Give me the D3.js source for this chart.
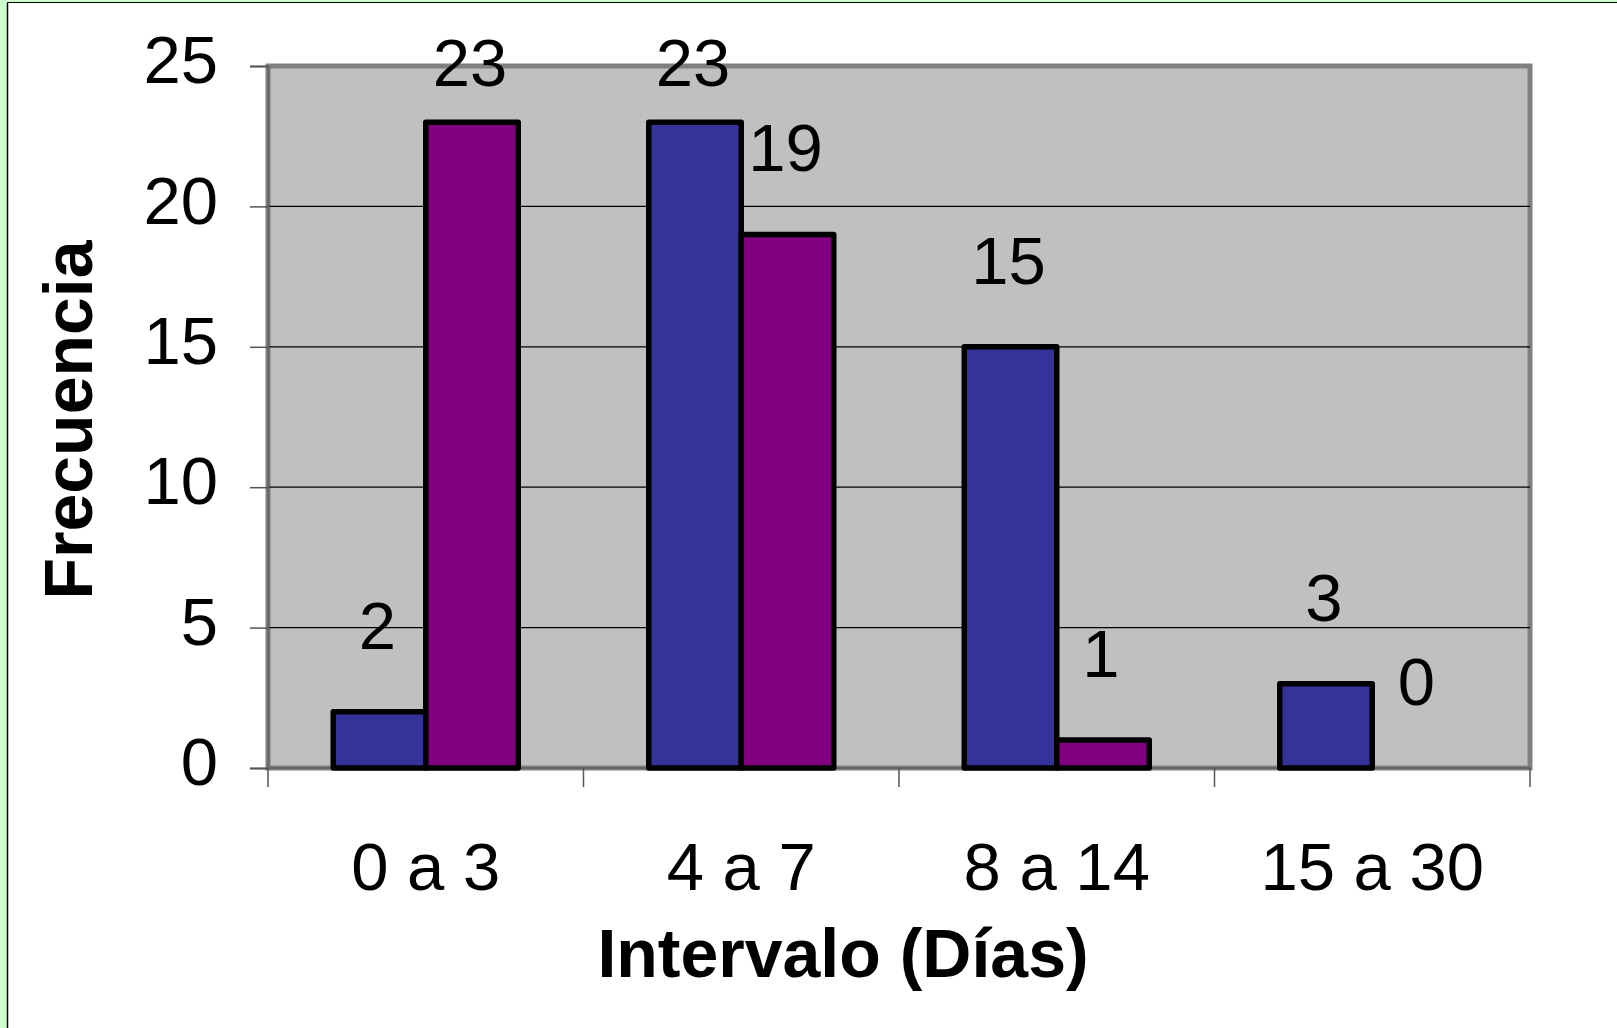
<!DOCTYPE html>
<html>
<head>
<meta charset="utf-8">
<style>
  html, body { margin: 0; padding: 0; background: #ccffcc; }
  svg { display: block; }
  text { font-family: "Liberation Sans", Arial, sans-serif; fill: #000; }
</style>
<script src="https://cdn.jsdelivr.net/npm/d3@7"></script>
</head>
<body>
<script>
// data
var categories = ['0 a 3', '4 a 7', '8 a 14', '15 a 30'];
var seriesNames = ['Serie 1', 'Serie 2'];
var serie1 = [2, 23, 15, 3];
var serie2 = [23, 19, 1, 0];
var yTicks = [0, 5, 10, 15, 20, 25];
var colors = ['#333399', '#800080'];

var W = 1617, H = 1028;
var plot = {left: 268, top: 66, right: 1530, bottom: 768};

var svg = d3.select('body').append('svg')
  .attr('width', W)
  .attr('height', H);

// chart area (white) with thin black edge, green page showing around it
svg.append('rect')
  .attr('x', 8).attr('y', 3)
  .attr('width', W).attr('height', H)
  .attr('fill', '#fff');
svg.append('line')
  .attr('x1', 7.5).attr('y1', 2.5).attr('x2', 7.5).attr('y2', H)
  .attr('stroke', '#000').attr('stroke-width', 1.5);
svg.append('line')
  .attr('x1', 7.5).attr('y1', 2.5).attr('x2', W).attr('y2', 2.5)
  .attr('stroke', '#000').attr('stroke-width', 1);

var x0 = d3.scaleBand()
  .domain(categories)
  .range([plot.left, plot.right])
  .paddingInner(0)
  .paddingOuter(0);

var groupW = 185;
var x1 = d3.scaleBand()
  .domain([0, 1])
  .range([0, groupW]);

var y = d3.scaleLinear()
  .domain([0, 25])
  .range([plot.bottom, plot.top]);

// plot background
svg.append('rect')
  .attr('x', plot.left).attr('y', plot.top)
  .attr('width', plot.right - plot.left)
  .attr('height', plot.bottom - plot.top)
  .attr('fill', '#c0c0c0')
  .attr('stroke', '#808080')
  .attr('stroke-width', 5);

// gridlines
svg.append('g')
  .selectAll('line')
  .data(yTicks.filter(function (d) { return d > 0 && d < 25; }))
  .enter()
  .append('line')
    .attr('x1', plot.left).attr('x2', plot.right)
    .attr('y1', function (d) { return y(d); })
    .attr('y2', function (d) { return y(d); })
    .attr('stroke', '#000')
    .attr('stroke-width', 1.2);

// y axis
var yAxis = svg.append('g')
  .attr('transform', 'translate(' + plot.left + ',0)')
  .call(d3.axisLeft(y).tickValues(yTicks).tickSize(18).tickPadding(32));
yAxis.select('.domain').attr('stroke', '#666').attr('stroke-width', 2);
yAxis.selectAll('.tick line').attr('stroke', '#555').attr('stroke-width', 1.5);
yAxis.selectAll('.tick text')
  .attr('font-size', 67)
  .attr('font-family', '"Liberation Sans", Arial, sans-serif')
  .attr('dy', '0.25em');

// x axis: ticks at band edges
var edges = categories.map(function (c) { return x0(c); }).concat([plot.right]);
svg.append('line')
  .attr('x1', plot.left).attr('x2', plot.right)
  .attr('y1', plot.bottom).attr('y2', plot.bottom)
  .attr('stroke', '#666').attr('stroke-width', 2);
svg.append('g')
  .selectAll('line')
  .data(edges)
  .enter()
  .append('line')
    .attr('x1', function (d) { return d; })
    .attr('x2', function (d) { return d; })
    .attr('y1', plot.bottom)
    .attr('y2', plot.bottom + 19)
    .attr('stroke', '#555')
    .attr('stroke-width', 1.5);

svg.append('g')
  .selectAll('text')
  .data(categories)
  .enter()
  .append('text')
    .attr('x', function (d) { return x0(d) + x0.bandwidth() / 2; })
    .attr('y', 890)
    .attr('text-anchor', 'middle')
    .attr('font-size', 67)
    .text(function (d) { return d; });

// bars
var rows = categories.map(function (c, i) {
  return {cat: c, values: [serie1[i], serie2[i]]};
});

var groups = svg.append('g')
  .selectAll('g')
  .data(rows)
  .enter()
  .append('g')
    .attr('transform', function (d) {
      return 'translate(' + (x0(d.cat) + (x0.bandwidth() - groupW) / 2) + ',0)';
    });

groups.selectAll('rect')
  .data(function (d) { return d.values; })
  .enter()
  .append('rect')
    .attr('x', function (d, i) { return x1(i); })
    .attr('width', x1.bandwidth())
    .attr('y', function (d) { return y(d); })
    .attr('height', function (d) { return y(0) - y(d); })
    .attr('fill', function (d, i) { return colors[i]; })
    .attr('stroke', '#000')
    .attr('stroke-width', 5.5)
    .attr('stroke-linejoin', 'round')
    .style('display', function (d) { return d > 0 ? null : 'none'; });

// value labels (pushed down when they would leave the chart)
groups.selectAll('text')
  .data(function (d) { return d.values; })
  .enter()
  .append('text')
    .attr('x', function (d, i) { return x1(i) + x1.bandwidth() / 2 - 2; })
    .attr('y', function (d) { return Math.max(y(d) - 63, 86); })
    .attr('text-anchor', 'middle')
    .attr('font-size', 67)
    .text(function (d) { return d; });

// axis titles
svg.append('text')
  .attr('transform', 'translate(92,420) rotate(-90)')
  .attr('text-anchor', 'middle')
  .attr('font-size', 68)
  .attr('font-weight', 'bold')
  .text('Frecuencia');

svg.append('text')
  .attr('x', 843)
  .attr('y', 977)
  .attr('text-anchor', 'middle')
  .attr('font-size', 68)
  .attr('font-weight', 'bold')
  .text('Intervalo (Días)');
</script>
</body>
</html>
